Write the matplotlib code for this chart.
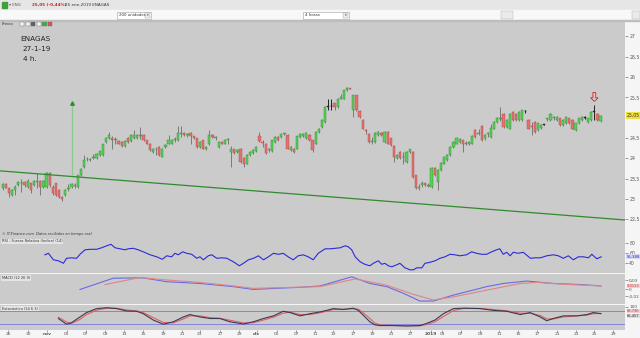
import matplotlib
matplotlib.use("Agg")
import matplotlib.pyplot as plt
from matplotlib.patches import Rectangle, FancyArrow

# ---------------- data ----------------
opens = [23.26,23.36,23.26,23.10,23.22,23.33,23.38,23.41,23.30,23.38,23.34,23.42,23.44,23.30,23.30,23.63,23.30,23.38,23.22,23.05,
         23.09,23.24,23.30,23.34,23.30,23.58,23.79,23.97,23.95,24.00,24.00,24.08,24.08,24.40,24.50,24.50,24.46,24.42,24.40,24.30,
         24.49,24.42,24.49,24.50,24.55,24.58,24.44,24.36,24.16,24.22,24.28,24.04,24.27,24.36,24.36,24.45,24.44,24.60,24.62,24.58,
         24.62,24.54,24.49,24.28,24.44,24.22,24.35,24.57,24.50,24.28,24.40,24.36,24.45,24.16,24.22,24.16,24.24,24.00,23.87,24.08,
         24.13,24.18,24.54,24.40,24.36,24.20,24.18,24.40,24.53,24.53,24.60,24.57,24.20,24.24,24.24,24.53,24.55,24.49,24.57,24.44,
         24.36,24.65,24.77,24.89,25.27,25.28,25.35,25.26,25.47,25.47,25.67,25.73,25.18,25.55,25.16,24.95,24.69,24.61,24.40,24.40,
         24.57,24.62,24.40,24.65,24.49,24.30,24.00,24.16,24.02,23.91,24.16,24.16,23.58,23.28,23.34,23.38,23.32,23.30,23.77,23.42,
         23.71,23.87,23.95,24.08,24.28,24.36,24.40,24.44,24.38,24.34,24.36,24.69,24.60,24.80,24.50,24.60,24.53,24.73,24.89,24.96,
         25.10,24.77,24.73,25.14,25.10,24.94,24.94,25.16,24.94,24.80,24.89,24.69,24.75,24.83,24.96,24.94,25.00,24.94,24.98,24.81,
         24.86,24.98,24.94,24.69,24.86,24.94,25.00,24.89,24.94,25.15,25.10,24.91]
highs = [23.39,23.38,23.28,23.24,23.34,23.45,23.50,23.44,23.48,23.40,23.46,23.63,23.46,23.46,23.65,23.66,23.33,23.40,23.24,23.06,
         23.24,23.36,23.40,23.38,23.60,23.76,24.07,24.02,24.01,24.10,24.12,24.20,24.36,24.53,24.65,24.56,24.52,24.44,24.42,24.45,
         24.52,24.60,24.70,24.60,24.77,24.60,24.46,24.38,24.26,24.28,24.30,24.26,24.34,24.57,24.48,24.53,24.79,24.79,24.64,24.62,
         24.64,24.56,24.51,24.42,24.46,24.30,24.69,24.59,24.54,24.42,24.42,24.48,24.50,24.30,24.24,24.22,24.26,24.02,24.10,24.18,
         24.22,24.29,24.64,24.44,24.38,24.26,24.46,24.55,24.55,24.61,24.63,24.59,24.30,24.26,24.56,24.63,24.63,24.64,24.59,24.46,
         24.67,24.75,24.96,25.28,25.47,25.47,25.37,25.49,25.59,25.69,25.76,25.74,25.57,25.57,25.18,24.97,24.73,24.63,24.53,24.64,
         24.67,24.64,24.67,24.67,24.51,24.32,24.10,24.18,24.16,24.18,24.24,24.18,23.60,23.36,23.44,23.40,23.38,23.79,23.79,23.73,
         23.91,24.05,24.10,24.30,24.42,24.53,24.49,24.46,24.42,24.42,24.57,24.71,24.73,24.82,24.60,24.65,24.85,24.91,25.01,25.26,
         25.12,24.96,25.12,25.16,25.12,25.16,25.20,25.20,24.96,24.89,24.91,24.88,24.85,24.85,25.00,25.12,25.04,25.04,25.00,24.96,
         25.04,25.00,24.96,24.88,25.00,25.04,25.04,25.00,25.16,25.32,25.12,25.07]
lows = [23.22,23.26,23.05,23.08,23.10,23.31,23.18,23.30,23.28,23.14,23.32,23.26,23.09,23.28,23.28,23.30,23.09,23.07,23.02,22.94,
        23.07,23.20,23.28,23.26,23.28,23.56,23.77,23.93,23.93,23.98,23.98,24.06,24.06,24.38,24.48,24.24,24.35,24.34,24.28,24.28,
        24.38,24.40,24.47,24.48,24.47,24.42,24.34,24.18,24.14,24.08,24.06,24.02,24.25,24.34,24.34,24.40,24.42,24.53,24.55,24.53,
        24.36,24.47,24.26,24.26,24.22,24.20,24.33,24.51,24.44,24.26,24.34,24.34,24.36,23.79,24.10,24.14,23.89,23.79,23.85,24.06,
        24.11,24.16,24.41,24.28,24.10,24.16,24.16,24.38,24.42,24.51,24.58,24.22,24.18,24.14,24.22,24.51,24.53,24.47,24.42,24.16,
        24.34,24.63,24.75,24.87,25.18,25.18,25.18,25.24,25.45,25.45,25.65,25.70,25.02,25.16,25.00,24.71,24.61,24.38,24.36,24.38,
        24.55,24.55,24.38,24.34,24.30,23.91,23.98,23.98,23.87,23.89,24.14,23.52,23.24,23.22,23.30,23.32,23.30,23.28,23.56,23.22,
        23.69,23.85,23.93,24.06,24.26,24.34,24.38,24.16,24.32,24.32,24.34,24.51,24.57,24.42,24.46,24.53,24.51,24.71,24.87,24.92,
        24.75,24.75,24.71,24.92,24.92,24.92,24.92,25.12,24.71,24.58,24.63,24.67,24.73,24.81,24.92,24.92,24.94,24.92,24.79,24.79,
        24.84,24.84,24.71,24.67,24.84,24.92,24.97,24.87,24.92,24.94,24.92,24.89]
closes = [23.36,23.28,23.14,23.22,23.30,23.41,23.40,23.33,23.44,23.22,23.44,23.44,23.30,23.44,23.63,23.33,23.14,23.09,23.05,23.00,
          23.22,23.26,23.36,23.32,23.58,23.73,23.95,23.99,23.99,24.03,24.10,24.17,24.34,24.50,24.58,24.44,24.48,24.36,24.30,24.42,
          24.41,24.57,24.58,24.58,24.57,24.44,24.36,24.20,24.24,24.24,24.08,24.24,24.32,24.44,24.46,24.47,24.62,24.62,24.57,24.60,
          24.54,24.49,24.28,24.40,24.24,24.28,24.57,24.53,24.52,24.40,24.36,24.46,24.47,24.22,24.12,24.20,23.91,23.87,24.08,24.16,
          24.20,24.27,24.43,24.38,24.12,24.22,24.44,24.53,24.44,24.59,24.61,24.24,24.28,24.16,24.54,24.61,24.61,24.62,24.44,24.20,
          24.65,24.73,24.94,25.26,25.27,25.28,25.26,25.47,25.51,25.67,25.74,25.71,25.55,25.18,25.02,24.73,24.67,24.40,24.42,24.62,
          24.65,24.57,24.65,24.36,24.32,24.03,24.08,24.00,24.04,24.16,24.22,23.54,23.26,23.30,23.40,23.34,23.34,23.77,23.58,23.71,
          23.89,24.03,24.08,24.28,24.40,24.49,24.47,24.34,24.36,24.40,24.55,24.53,24.62,24.44,24.58,24.62,24.75,24.89,24.99,24.98,
          24.77,24.94,25.10,24.94,24.94,25.14,25.18,25.16,24.73,24.78,24.65,24.86,24.83,24.83,24.98,25.10,25.02,25.02,24.81,24.94,
          25.02,24.86,24.73,24.86,24.98,25.02,25.00,24.98,25.14,25.15,24.94,25.05]

trend_x = [-0.86, 198.8]
trend_y = [23.69, 22.48]

price_ticks = [22.5, 23, 23.5, 24, 24.5, 25.5, 26, 26.5, 27]
price_labels = ["22,5", "23", "23,5", "24", "24,5", "25,5", "26", "26,5", "27"]

date_pos = [1.7, 8.1, 14.2, 20.5, 26.6, 32.7, 38.8, 44.8, 51.2, 57.3, 63.0, 69.4, 75.5, 81.2, 87.6, 93.7,
            99.8, 105.5, 111.9, 118.0, 124.1, 130.1, 136.8, 140.4, 146.4, 152.5, 158.6, 164.6, 170.7,
            177.1, 183.2, 188.9, 195.0]
date_labels = ['26', '30', 'nov', '05', '07', '09', '13', '15', '19', '21', '23', '27', '29', 'dic', '05', '07',
               '11', '13', '17', '19', '21', '27', '2019', '03', '07', '09', '11', '15', '17', '21', '23', '25', '29']

rsi_x = [13.5,14.6,16.2,17.8,19.4,20.4,22.0,23.6,24.7,26.3,27.9,30.0,31.6,33.2,34.6,35.9,37.5,39.1,40.1,41.7,
         43.3,44.9,47.1,49.2,51.0,52.4,54.0,55.0,56.1,57.5,58.8,60.4,62.0,63.0,64.1,65.7,66.8,68.4,70.0,71.6,
         73.7,75.6,76.9,78.5,80.1,81.7,83.3,84.9,86.5,88.1,89.6,91.2,92.8,94.4,96.0,97.6,99.2,100.8,
         103.0,104.6,106.2,107.8,109.4,110.4,111.5,112.6,114.2,115.7,117.3,118.4,120.0,121.1,122.1,123.2,124.3,
         125.9,126.9,128.5,130.1,131.2,132.3,133.9,134.9,136.5,138.1,139.7,141.3,142.9,144.5,146.1,148.2,149.8,
         151.4,153.0,154.6,156.2,157.8,158.8,159.9,161.0,162.1,163.1,164.7,166.3,168.6,170.1,171.8,173.8,175.9,
         177.5,179.1,180.7,182.3,183.9,185.5,187.1,188.2,189.8,191.2]
rsi_v = [57,60,47,45,40,50,51,50,58,67,68,68,71,75,78,71,69,67,69,70,
         67,63,57,53,48,55,53,60,57,63,60,58,50,53,47,55,57,50,51,50,
         43,35,40,47,50,55,47,53,60,58,60,53,47,55,57,53,47,60,
         69,69,70,71,75,73,67,53,43,38,35,40,45,38,40,35,33,
         37,40,31,27,27,31,31,40,42,45,50,53,58,57,55,57,63,
         60,58,58,63,67,69,58,62,55,62,60,62,50,51,51,55,
         57,55,50,55,47,53,53,51,58,49,53]

macd_x = [24.7, 35.3, 44.9, 52.4, 63.0, 73.7, 80.1, 86.5, 95.0, 101.4, 111.5, 117.3, 122.7, 128.0, 133.3,
          137.6, 144.0, 154.6, 159.9, 167.4, 175.9, 184.4, 191.1]
macd_v = [-0.001, 0.031, 0.032, 0.021, 0.016, 0.007, -0.001, 0.002, 0.005, 0.009, 0.035, 0.016, 0.007,
          -0.012, -0.034, -0.034, -0.017, 0.007, 0.016, 0.023, 0.016, 0.013, 0.009]
signal_x = [32.7, 43.9, 52.4, 63.0, 73.7, 80.1, 87.5, 101.4, 112.6, 122.7, 131.2, 137.6, 144.0, 154.6, 165.3,
            170.6, 181.2, 191.1]
signal_v = [0.013, 0.033, 0.026, 0.019, 0.009, 0.002, 0.004, 0.007, 0.029, 0.011, -0.015, -0.031, -0.022,
            -0.003, 0.016, 0.019, 0.013, 0.009]

stk_x = [17.8,20.4,22.0,24.7,26.8,30.0,33.2,36.4,39.6,42.8,44.9,48.1,51.3,54.5,57.7,59.8,63.0,66.2,69.4,72.6,
         76.9,80.1,83.3,86.5,89.6,91.8,95.0,98.2,101.4,103.5,105.6,108.8,112.0,113.6,115.2,117.3,118.9,120.5,
         124.8,129.1,133.3,135.5,138.1,140.8,144.0,147.2,152.5,156.7,161.0,165.3,168.5,171.7,173.8,175.9,179.1,
         183.4,186.6,188.7,191.1]
stk_k = [46,20,27,53,73,91,95,91,80,79,68,39,20,31,53,64,53,46,46,31,
         21,31,46,58,79,73,58,68,76,83,91,87,93,83,61,31,17,14,
         14,12,14,24,39,68,91,93,91,83,79,64,73,53,36,46,58,
         58,64,73,68]
stk_d = [52,30,24,42,64,84,93,93,85,80,73,50,28,26,44,58,58,50,47,38,
         26,27,39,52,70,75,64,64,72,79,87,88,90,88,72,46,25,17,
         14,13,13,19,31,55,82,92,92,87,81,70,70,60,44,44,53,
         58,61,68,69]

# ---------------- figure ----------------
W, H = 640, 338
fig = plt.figure(figsize=(6.4, 3.38), dpi=100)
fig.patch.set_facecolor('#f5f5f5')

def ax_rect(x0, y0, x1, y1):
    return [x0 / W, 1 - y1 / H, (x1 - x0) / W, (y1 - y0) / H]

def fig_box(x0, y0, w, h, **kw):
    fig.patches.append(Rectangle((x0 / W, 1 - (y0 + h) / H), w / W, h / H, transform=fig.transFigure, **kw))

BG = '#cbcbcb'
XL = (-0.86, 198.8)
PLOT_R = 625

# toolbars
fig_box(0, 0, W, 10, color='#e6e6e6', zorder=0)
fig_box(0, 10, W, 10, color='#f8f8f8', zorder=0)
fig_box(0, 19.9, W, 0.6, color='#bdbdbd', zorder=0)
fig_box(2, 2, 5, 6, color='#3f9f3f', zorder=1)
fig.text(9 / W, 1 - 5 / H, "▾ ENG", fontsize=2.8, color='#555555', va='center')
fig.text(32 / W, 1 - 5 / H, "25,05 (-0,44%)", fontsize=3.0, color='#d02020', fontweight='bold', va='center')
fig.text(65 / W, 1 - 5 / H, "25 ene-2019 ENAGAS", fontsize=3.0, color='#333333', va='center')
for (bx0, bx1, txt) in [(117, 151, "200 unidades"), (303, 349, "4 horas")]:
    fig_box(bx0, 11.5, bx1 - bx0, 7, facecolor='white', edgecolor='#a0a0a0', lw=0.4, zorder=1)
    fig.text((bx0 + 2) / W, 1 - 15 / H, txt, fontsize=2.8, color='#333333', va='center')
    fig_box(bx1 - 6, 12.5, 5, 5, facecolor='#eeeeee', edgecolor='#a0a0a0', lw=0.3, zorder=2)
    fig.text((bx1 - 3.5) / W, 1 - 15 / H, "▾", fontsize=2.5, color='#333333', va='center', ha='center')
fig_box(501, 11, 12, 8, facecolor='#eaeaea', edgecolor='#b0b0b0', lw=0.3, zorder=1)
fig_box(632, 11, 8, 8, facecolor='#eaeaea', edgecolor='#b0b0b0', lw=0.3, zorder=1)

# ---------------- main price panel ----------------
ax = fig.add_axes(ax_rect(0, 20.5, PLOT_R, 237))
ax.set_facecolor(BG)
ax.set_xlim(*XL)
ax.set_ylim(22.061, 27.393)

for i in range(len(closes)):
    o, h, l, c = opens[i], highs[i], lows[i], closes[i]
    if abs(c - o) < 0.005:
        fc, ec, wc = '#222222', '#222222', '#222222'
    elif c > o:
        fc, ec, wc = '#58d058', '#2f8a2f', '#7a7a7a'
    else:
        fc, ec, wc = '#e27272', '#b04848', '#7a7a7a'
    ax.vlines(i, l, h, color=wc, lw=0.7, zorder=2)
    ax.bar(i, max(abs(c - o), 0.012), bottom=min(o, c), width=0.72, color=fc, edgecolor=ec, lw=0.3, zorder=3)

ax.plot(trend_x, trend_y, color='#2e8b2e', lw=0.9, zorder=4)
ax.vlines(22, 23.58, 25.33, color='#8fc88f', lw=0.9, zorder=1)
ax.plot([22], [25.35], marker='^', color='#2e8b2e', markersize=2.5, zorder=5)
ax.add_patch(FancyArrow(189, 25.62, 0, -0.22, width=0.9, head_width=2.4, head_length=0.09,
                        length_includes_head=True, facecolor='none', edgecolor='#e02020', lw=0.6, zorder=6))

ax.yaxis.tick_right()
ax.set_yticks(price_ticks)
ax.set_yticklabels(price_labels)
ax.tick_params(axis='y', labelsize=3.3, length=2, pad=1, colors='#555555', width=0.4)
ax.set_xticks([])
for s in ax.spines.values():
    s.set_visible(False)
ax.text(1.003, 25.05, "25,05", transform=ax.get_yaxis_transform(), fontsize=3.3, va='center', ha='left',
        color='#333333', bbox=dict(boxstyle='square,pad=0.15', fc='#f0e040', ec='none'))

ax.text(20 / PLOT_R, 0.915, "ENAGAS", transform=ax.transAxes, fontsize=5.2, color='#222222', va='center')
ax.text(22 / PLOT_R, 0.868, "27-1-19", transform=ax.transAxes, fontsize=5.2, color='#222222', va='center')
ax.text(23 / PLOT_R, 0.822, "4 h.", transform=ax.transAxes, fontsize=5.2, color='#222222', va='center')
ax.text(2 / PLOT_R, 0.983, "Precio", transform=ax.transAxes, fontsize=2.8, color='#333333', va='center')
ax.text(2 / PLOT_R, 0.015, "© IT-Finance.com  Datos recibidos en tiempo real", transform=ax.transAxes,
        fontsize=2.6, color='#333333', style='italic', va='center')
for k, col in enumerate(['#f4f4f4', '#f4f4f4', '#606060', '#f4f4f4', '#40b040', '#e05050']):
    fig_box(20 + k * 5.6, 22, 4.2, 4.2, facecolor=col, edgecolor='#707070', lw=0.3, zorder=5)

# ---------------- RSI ----------------
ax_r = fig.add_axes(ax_rect(0, 237, PLOT_R, 273))
ax_r.set_facecolor(BG)
ax_r.set_xlim(*XL)
ax_r.set_ylim(20.6, 92.6)
ax_r.plot(rsi_x, rsi_v, color='#2b2bdc', lw=0.8)
ax_r.yaxis.tick_right()
ax_r.set_yticks([80, 60, 40])
ax_r.set_yticklabels(["80", "60", "40"])
ax_r.tick_params(axis='y', labelsize=3.3, length=2, pad=1, colors='#555555', width=0.4)
ax_r.set_xticks([])
for s in ax_r.spines.values():
    s.set_visible(False)
ax_r.text(1.003, rsi_v[-1], "55,388", transform=ax_r.get_yaxis_transform(), fontsize=2.8, va='center',
          ha='left', color='#2b2bdc', bbox=dict(boxstyle='square,pad=0.1', fc='#d8d8f0', ec='none'))
ax_r.text(2 / PLOT_R, 0.88, "RSI - Fuerza Relativa (Indice) (14)", transform=ax_r.transAxes, fontsize=2.6,
          color='#333333', va='center', bbox=dict(boxstyle='square,pad=0.2', fc='#e4e4e4', ec='none'))

# ---------------- MACD ----------------
ax_m = fig.add_axes(ax_rect(0, 274, PLOT_R, 303.5))
ax_m.set_facecolor(BG)
ax_m.set_xlim(*XL)
ax_m.set_ylim(-0.041, 0.043)
ax_m.plot(macd_x, macd_v, color='#6a6ae6', lw=0.8)
ax_m.plot(signal_x, signal_v, color='#e08585', lw=0.8)
ax_m.yaxis.tick_right()
ax_m.set_yticks([0.025, 0, -0.02])
ax_m.set_yticklabels(["0,03", "0", "-0,02"])
ax_m.tick_params(axis='y', labelsize=3.1, length=2, pad=1, colors='#555555', width=0.4)
ax_m.set_xticks([])
for s in ax_m.spines.values():
    s.set_visible(False)
ax_m.text(1.003, 0.009, "0,0113", transform=ax_m.get_yaxis_transform(), fontsize=2.6, va='center',
          ha='left', color='#c03030', bbox=dict(boxstyle='square,pad=0.05', fc='#f0d0d0', ec='none'))
ax_m.text(2 / PLOT_R, 0.86, "MACD (12 26 9)", transform=ax_m.transAxes, fontsize=2.6,
          color='#333333', va='center', bbox=dict(boxstyle='square,pad=0.2', fc='#e4e4e4', ec='none'))

# ---------------- Stochastic ----------------
ax_s = fig.add_axes(ax_rect(0, 304.5, PLOT_R, 329.5))
ax_s.set_facecolor(BG)
ax_s.set_xlim(*XL)
ax_s.set_ylim(-4, 109.7)
ax_s.axhline(80, color='#7878e0', lw=0.6)
ax_s.axhline(20, color='#7878e0', lw=0.6)
ax_s.plot(stk_x, stk_d, color='#e06060', lw=0.8)
ax_s.plot(stk_x, stk_k, color='#3a3a55', lw=0.8)
ax_s.yaxis.tick_right()
ax_s.set_yticks([100])
ax_s.set_yticklabels(["100"])
ax_s.tick_params(axis='y', labelsize=3.1, length=2, pad=1, colors='#555555', width=0.4)
for s in ax_s.spines.values():
    s.set_visible(False)
ax_s.set_xticks(date_pos)
ax_s.set_xticklabels(date_labels)
ax_s.tick_params(axis='x', labelsize=3.2, length=1.2, pad=0.6, colors='#555555', width=0.4)
for lab in ax_s.get_xticklabels():
    if lab.get_text() in ('nov', 'dic', '2019'):
        lab.set_fontweight('bold')
ax_s.text(1.003, 80, "69,736", transform=ax_s.get_yaxis_transform(), fontsize=2.6, va='center',
          ha='left', color='#c03030', bbox=dict(boxstyle='square,pad=0.05', fc='#f0d0d0', ec='none'))
ax_s.text(1.003, 58, "65,457", transform=ax_s.get_yaxis_transform(), fontsize=2.6, va='center',
          ha='left', color='#333333', bbox=dict(boxstyle='square,pad=0.05', fc='#dcdcdc', ec='none'))
ax_s.text(2 / PLOT_R, 0.84, "Estocástico (14 6 3)", transform=ax_s.transAxes, fontsize=2.6,
          color='#333333', va='center', bbox=dict(boxstyle='square,pad=0.2', fc='#e4e4e4', ec='none'))

fig.savefig("out.png", dpi=100, facecolor=fig.get_facecolor())
